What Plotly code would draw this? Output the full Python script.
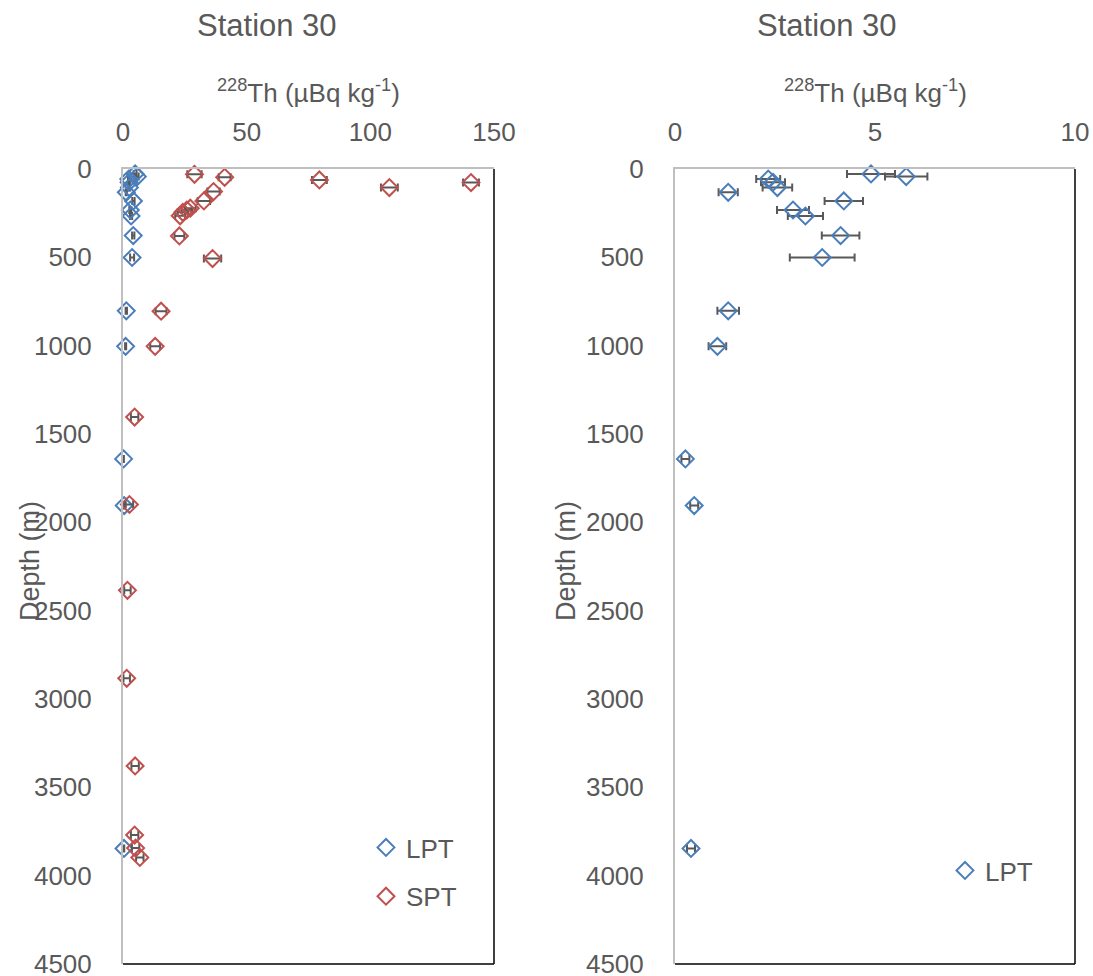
import plotly.graph_objects as go

# ---- data ----
lpt_depth = [28, 43, 57, 75, 105, 132, 181, 232, 266, 377, 501, 803, 1004, 1641, 1905, 3846]
lpt_th = [4.9, 5.78, 2.33, 2.45, 2.56, 1.33, 4.22, 2.95, 3.26, 4.14, 3.68, 1.33, 1.06, 0.26, 0.48, 0.40]
lpt_err = [0.6, 0.53, 0.3, 0.3, 0.37, 0.24, 0.48, 0.4, 0.44, 0.47, 0.81, 0.27, 0.22, 0.1, 0.1, 0.1]

spt_depth = [30, 47, 62, 77, 105, 128, 181, 222, 232, 245, 265, 379, 507, 805, 1004, 1404, 1899, 2385, 2883, 3379, 3770, 3844, 3897]
spt_th = [28.9, 41.1, 79.4, 140.7, 107.7, 36.6, 32.7, 27.2, 25.8, 24.2, 23.1, 22.8, 36.2, 15.4, 13.0, 4.7, 2.6, 1.8, 1.5, 4.9, 4.7, 5.1, 6.8]
spt_err = [2.9, 2.4, 3.0, 3.2, 3.4, 2.5, 2.5, 2.2, 2.2, 2.1, 2.0, 2.0, 3.5, 2.2, 2.0, 1.5, 1.5, 1.3, 1.3, 1.5, 1.5, 1.5, 1.5]

left_xticks = [0, 50, 100, 150]
right_xticks = [0, 5, 10]
depth_ticks = [0, 500, 1000, 1500, 2000, 2500, 3000, 3500, 4000, 4500]

title_text = "Station 30"
x_title = "<sup>228</sup>Th (µBq kg<sup>-1</sup>)"
y_title = "Depth (m)"

FONT = "Liberation Sans, Arial, sans-serif"
GREY = "#595959"
BLUE = "#4A7EBB"
RED = "#C0504D"

W, H = 1093, 976
# plot area pixels (in screenshot coordinates)
L1, R1 = 123, 494
L2, R2 = 675, 1075
TOP, BOT = 169, 964

def px(x):
    return x / W

def py(y):
    return 1 - y / H

fig = go.Figure()

err_style = dict(type="data", color=GREY, thickness=2, width=4)

fig.add_trace(go.Scatter(
    x=lpt_th, y=lpt_depth, mode="markers", name="LPT",
    marker=dict(symbol="diamond-open", size=13, color=BLUE, line=dict(width=2, color=BLUE)),
    error_x=dict(array=lpt_err, **err_style),
    xaxis="x", yaxis="y", legend="legend", legendgroup="a", cliponaxis=False,
))
fig.add_trace(go.Scatter(
    x=spt_th, y=spt_depth, mode="markers", name="SPT",
    marker=dict(symbol="diamond-open", size=13, color=RED, line=dict(width=2, color=RED)),
    error_x=dict(array=spt_err, **err_style),
    xaxis="x", yaxis="y", legend="legend", legendgroup="b", cliponaxis=False,
))
fig.add_trace(go.Scatter(
    x=lpt_th, y=lpt_depth, mode="markers", name="LPT",
    marker=dict(symbol="diamond-open", size=13, color=BLUE, line=dict(width=2, color=BLUE)),
    error_x=dict(array=lpt_err, **err_style),
    xaxis="x2", yaxis="y2", legend="legend2", cliponaxis=False,
))

axis_common = dict(showgrid=False, zeroline=False, showline=True, linecolor="#BFBFBF",
                   linewidth=2, ticks="", automargin=False, ticklabeloverflow="allow",
                   tickfont=dict(family=FONT, size=26, color=GREY))

fig.update_layout(
    width=W, height=H, margin=dict(l=0, r=0, t=0, b=0, autoexpand=False),
    plot_bgcolor="white", paper_bgcolor="white",
    font=dict(family=FONT, color=GREY),
    xaxis=dict(domain=[px(L1), px(R1)], range=[0, 150], tickvals=left_xticks, side="top",
               anchor="y", ticklabelstandoff=16, **axis_common),
    yaxis=dict(domain=[py(BOT), py(TOP)], range=[4500, 0], tickvals=depth_ticks,
               anchor="x", ticklabelstandoff=24, **axis_common),
    xaxis2=dict(domain=[px(L2), px(R2)], range=[0, 10], tickvals=right_xticks, side="top",
                anchor="y2", ticklabelstandoff=16, **axis_common),
    yaxis2=dict(domain=[py(BOT), py(TOP)], range=[4500, 0], tickvals=depth_ticks,
                anchor="x2", ticklabelstandoff=24, **axis_common),
    legend=dict(x=px(366), y=py(824), xanchor="left", yanchor="top",
                font=dict(family=FONT, size=26, color=GREY), bgcolor="rgba(0,0,0,0)",
                itemwidth=30, tracegroupgap=12, traceorder="grouped"),
    legend2=dict(x=px(945), y=py(847), xanchor="left", yanchor="top",
                 font=dict(family=FONT, size=26, color=GREY), bgcolor="rgba(0,0,0,0)",
                 itemwidth=30),
    showlegend=True,
)

# black right/bottom plot borders
for xr, yr in (("x domain", "y domain"), ("x2 domain", "y2 domain")):
    fig.add_shape(type="line", xref=xr, yref=yr, x0=1, x1=1, y0=0, y1=1,
                  line=dict(color="black", width=1.5))
    fig.add_shape(type="line", xref=xr, yref=yr, x0=0, x1=1, y0=0, y1=0,
                  line=dict(color="black", width=1.5))

# titles and axis titles
for cx_title, cx_axis, cx_depth in ((267, (L1 + R1) / 2, 30), (827, (L2 + R2) / 2, 566)):
    fig.add_annotation(text=title_text, x=px(cx_title), y=py(25), xref="paper", yref="paper",
                       showarrow=False, xanchor="center", yanchor="middle",
                       font=dict(family=FONT, size=31, color=GREY))
    fig.add_annotation(text=x_title, x=px(cx_axis), y=py(92), xref="paper", yref="paper",
                       showarrow=False, xanchor="center", yanchor="middle",
                       font=dict(family=FONT, size=26, color=GREY))
    fig.add_annotation(text=y_title, x=px(cx_depth), y=py(561), xref="paper", yref="paper",
                       showarrow=False, xanchor="center", yanchor="middle", textangle=-90,
                       font=dict(family=FONT, size=27, color=GREY))

fig.write_html(
    "out.html",
    config={"displayModeBar": False},
    post_script="document.body.style.margin='0';document.body.style.overflow='hidden';",
)
